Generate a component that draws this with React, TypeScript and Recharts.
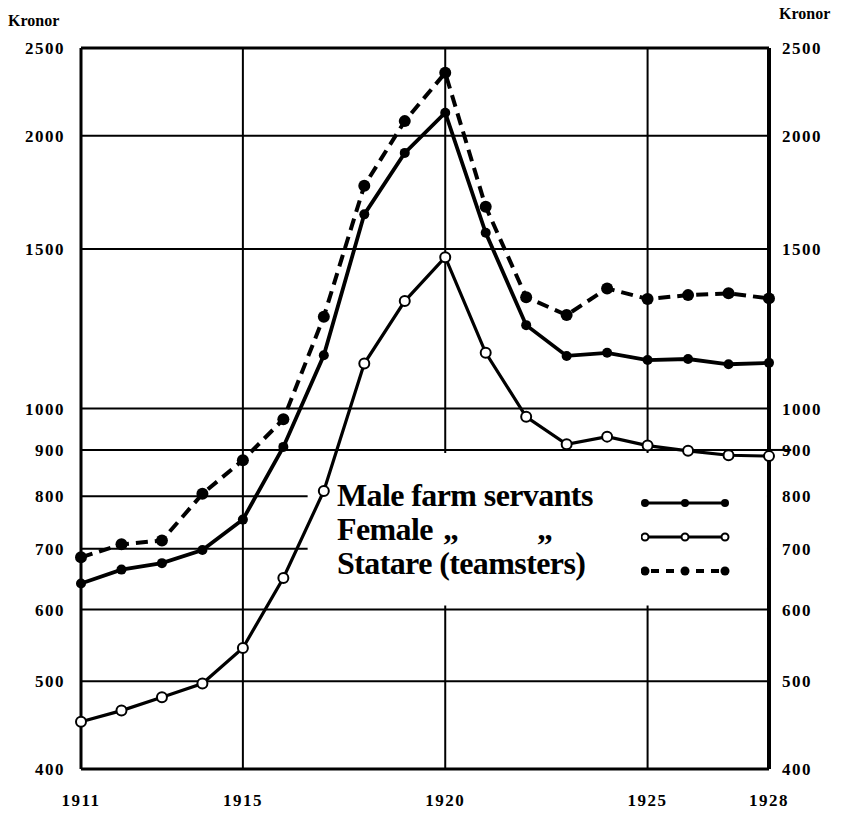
import React from 'react';
import { LineChart, Line, XAxis, YAxis, CartesianGrid, ReferenceArea, ReferenceLine, Legend } from 'recharts';

const years = [1911, 1912, 1913, 1914, 1915, 1916, 1917, 1918, 1919, 1920, 1921, 1922, 1923, 1924, 1925, 1926, 1927, 1928];
const maleServants = [641, 664, 675, 698, 754, 907, 1145, 1638, 1915, 2121, 1563, 1236, 1143, 1152, 1131, 1134, 1119, 1123];
const femaleServants = [451, 464, 480, 497, 544, 650, 811, 1121, 1314, 1469, 1152, 979, 913, 931, 910, 898, 888, 886];
const statare = [685, 708, 715, 805, 877, 973, 1263, 1762, 2076, 2347, 1670, 1327, 1268, 1357, 1321, 1334, 1340, 1323];

const yearTicks = [1911, 1915, 1920, 1925, 1928];
const kronorTicks = [400, 500, 600, 700, 800, 900, 1000, 1500, 2000, 2500];

const legendRows = [
  { label: 'Male farm servants', kind: 'male' },
  { label: 'Female', kind: 'female' },
  { label: 'Statare (teamsters)', kind: 'statare' },
];

const data = years.map((year, i) => ({
  year,
  male: maleServants[i],
  female: femaleServants[i],
  statare: statare[i],
}));

const serif = '"Liberation Serif", "DejaVu Serif", serif';
const tickStyle = { fill: '#000', fontSize: 17, fontFamily: serif, fontWeight: 700, letterSpacing: 1.5 };

const FilledDot = (r: number) => (props: any) => {
  const { cx, cy, index } = props;
  if (cx == null || cy == null) return <g key={index} />;
  return <circle key={index} cx={cx} cy={cy} r={r} fill="#000" stroke="none" />;
};

const OpenDot = (props: any) => {
  const { cx, cy, index } = props;
  if (cx == null || cy == null) return <g key={index} />;
  return <circle key={index} cx={cx} cy={cy} r={5} fill="#fff" stroke="#000" strokeWidth={2} />;
};

const Sample = ({ kind }: { kind: string }) => (
  <svg width={90} height={14} style={{ position: 'absolute', left: 304, top: 0 }}>
    {kind === 'statare' ? (
      <line x1={4} y1={7} x2={84} y2={7} stroke="#000" strokeWidth={4} strokeDasharray="8 7" strokeDashoffset={-6} />
    ) : (
      <line x1={4} y1={7} x2={84} y2={7} stroke="#000" strokeWidth={3} />
    )}
    {[4, 44, 84].map((x) =>
      kind === 'female' ? (
        <circle key={x} cx={x} cy={7} r={3.5} fill="#fff" stroke="#000" strokeWidth={2} />
      ) : (
        <circle key={x} cx={x} cy={7} r={kind === 'statare' ? 4.5 : 4} fill="#000" />
      )
    )}
  </svg>
);

const LegendBox = () => (
  <div style={{ position: 'relative', width: 420, height: 110, fontFamily: serif, fontWeight: 700, color: '#000' }}>
    {legendRows.map((row, i) => (
      <div key={row.kind} style={{ position: 'absolute', left: 0, top: i * 34, width: 420, height: 34 }}>
        <span style={{ position: 'absolute', left: 0, top: 0, fontSize: 32, lineHeight: '34px', letterSpacing: -0.6, whiteSpace: 'nowrap' }}>
          {row.label}
        </span>
        {row.kind === 'female' && (
          <>
            <span style={{ position: 'absolute', left: 106, top: 0, fontSize: 32, lineHeight: '34px' }}>„</span>
            <span style={{ position: 'absolute', left: 200, top: 0, fontSize: 32, lineHeight: '34px' }}>„</span>
          </>
        )}
        <div style={{ position: 'absolute', left: 0, top: 18 }}>
          <Sample kind={row.kind} />
        </div>
      </div>
    ))}
  </div>
);

export default function App() {
  return (
    <div style={{ position: 'absolute', left: 0, top: 0, width: 852, height: 814, background: '#fff' }}>
      <div style={{ position: 'absolute', left: 8, top: 12, fontFamily: serif, fontWeight: 700, fontSize: 16 }}>Kronor</div>
      <div style={{ position: 'absolute', left: 779, top: 5, fontFamily: serif, fontWeight: 700, fontSize: 16 }}>Kronor</div>
      <LineChart width={852} height={814} data={data} margin={{ top: 48, right: 0, bottom: 0, left: 0 }}>
        <CartesianGrid yAxisId="left" stroke="#000" strokeWidth={2} />
        <XAxis
          dataKey="year"
          type="number"
          domain={[1911, 1928]}
          ticks={yearTicks}
          height={45}
          tickLine={false}
          tickSize={0}
          tickMargin={25}
          axisLine={{ stroke: '#000', strokeWidth: 3 }}
          tick={tickStyle}
          interval={0}
        />
        <YAxis
          yAxisId="left"
          orientation="left"
          scale="log"
          domain={[400, 2500]}
          ticks={kronorTicks}
          allowDataOverflow
          width={81}
          tickLine={false}
          tickSize={0}
          tickMargin={16}
          axisLine={{ stroke: '#000', strokeWidth: 3 }}
          tick={tickStyle}
          interval={0}
        />
        <YAxis
          yAxisId="right"
          orientation="right"
          scale="log"
          domain={[400, 2500]}
          ticks={kronorTicks}
          allowDataOverflow
          width={83}
          tickLine={false}
          tickSize={0}
          tickMargin={13}
          axisLine={{ stroke: '#000', strokeWidth: 4 }}
          tick={tickStyle}
          interval={0}
        />
        <ReferenceLine yAxisId="left" y={2500} stroke="#000" strokeWidth={3} />
        <ReferenceLine
          yAxisId="left"
          segment={[{ x: 1928, y: 900 }, { x: 1928.55, y: 900 }]}
          stroke="#000"
          strokeWidth={2}
          ifOverflow="visible"
        />
        <ReferenceArea yAxisId="left" x1={1916.6} x2={1927.95} y1={606} y2={893} fill="#fff" fillOpacity={1} stroke="none" />
        <Legend
          layout="horizontal"
          verticalAlign="middle"
          align="center"
          content={() => <LegendBox />}
          wrapperStyle={{ position: 'absolute', left: 337, top: 478, width: 420, height: 110 }}
        />
        <Line
          yAxisId="left"
          dataKey="statare"
          stroke="#000"
          strokeWidth={4}
          strokeDasharray="12 7"
          dot={FilledDot(6)}
          isAnimationActive={false}
        />
        <Line
          yAxisId="left"
          dataKey="male"
          stroke="#000"
          strokeWidth={3.8}
          dot={FilledDot(5)}
          isAnimationActive={false}
        />
        <Line
          yAxisId="left"
          dataKey="female"
          stroke="#000"
          strokeWidth={3.2}
          dot={OpenDot}
          isAnimationActive={false}
        />
      </LineChart>
    </div>
  );
}
